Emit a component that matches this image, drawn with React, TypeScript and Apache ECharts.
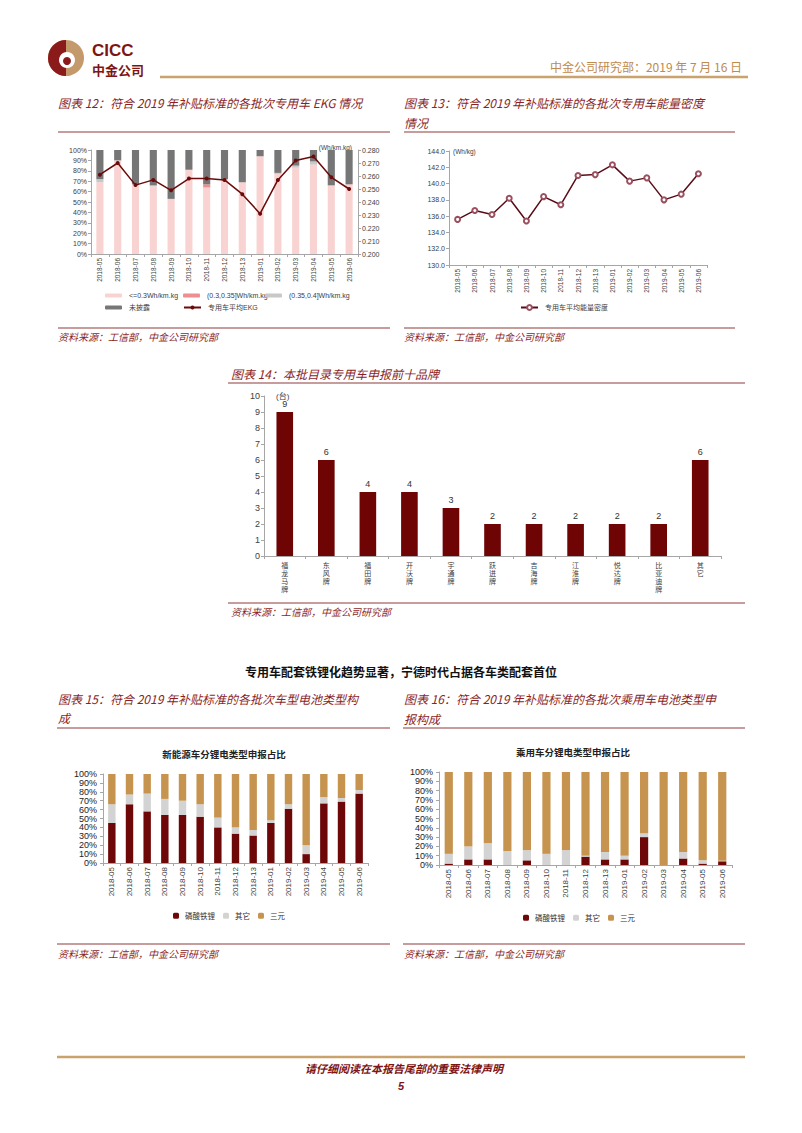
import React, { useEffect, useRef } from 'react';
import * as echarts from 'echarts';

const months = ['2018-05','2018-06','2018-07','2018-08','2018-09','2018-10','2018-11','2018-12','2018-13','2019-01','2019-02','2019-03','2019-04','2019-05','2019-06'];

// 图表12
const ekgLe030 = [69, 90, 67, 65, 53, 81, 64, 72, 69, 94, 77, 83, 86, 66, 67];
const ekg030to035 = [0, 0, 0, 0, 0, 0, 3, 0, 0, 0, 0, 0, 0, 0, 0];
const ekg035to040 = [3, 0, 0, 1, 0, 0, 0, 0, 0, 0, 1, 2, 3, 0, 0];
const ekgUndisclosed = [28, 10, 33, 34, 47, 19, 33, 28, 31, 6, 22, 15, 11, 34, 33];
const ekgAvg = [0.261, 0.270, 0.253, 0.257, 0.249, 0.258, 0.258, 0.257, 0.246, 0.231, 0.257, 0.272, 0.275, 0.259, 0.250];

// 图表13
const energyDensity = [135.6, 136.7, 136.2, 138.2, 135.4, 138.4, 137.4, 141.0, 141.1, 142.3, 140.3, 140.7, 138.0, 138.7, 141.2];

// 图表14
const brands = ['福龙马牌', '东风牌', '福田牌', '开沃牌', '宇通牌', '跃进牌', '吉海牌', '江淮牌', '悦达牌', '比亚迪牌', '其它'];
const brandCounts = [9, 6, 4, 4, 3, 2, 2, 2, 2, 2, 6];

// 图表15
const nevLfp = [45, 66, 58, 54, 54, 52, 40, 33, 31, 45, 61, 10, 67, 69, 78];
const nevOther = [21, 11, 20, 18, 16, 14, 11, 7, 6, 3, 5, 10, 7, 4, 4];
const nevNcm = [34, 23, 22, 28, 30, 34, 49, 60, 63, 52, 34, 80, 26, 27, 18];

// 图表16
const pvLfp = [1.5, 6, 6, 0, 5, 0, 0, 9, 6, 6, 30, 0, 7, 1.5, 4];
const pvOther = [10.5, 14, 17.5, 15, 11, 12, 16, 1, 8, 4, 4, 0, 7, 3.5, 0.5];
const pvNcm = [88, 80, 76.5, 85, 84, 88, 84, 90, 86, 90, 66, 100, 86, 95, 95.5];

const pctTicks = '{value}%';

const FONT = '"Liberation Sans", "Noto Sans CJK SC", sans-serif';
const CJK = '"Noto Sans CJK SC", sans-serif';
const RED = '#8c1f28';
const RULE = '#8e3b3b';
const GOLD = '#c9a26d';
const DARK = '#6e0808';
const TAN = '#c6944f';
const LGREY = '#d3d3d3';
const AXIS = '#a6a6a6';

const txt = (x: number, y: number, text: string, font: string, fill: string, align = 'left') => ({
  type: 'text', x, y, silent: true,
  style: { text, font, fill, textAlign: align, textVerticalAlign: 'middle' },
});
const ln = (x1: number, y1: number, x2: number, y2: number, stroke: string, lineWidth = 1) => ({
  type: 'line', silent: true, shape: { x1, y1, x2, y2 }, style: { stroke, lineWidth },
});

const titleFont = `italic 12px ${CJK}`;
const srcFont = `italic 10px ${CJK}`;
const SRC = '资料来源：工信部，中金公司研究部';

const graphics: any[] = [
  // logo
  { type: 'circle', shape: { cx: 66, cy: 58, r: 18 }, style: { fill: '#c49a6c' } },
  { type: 'sector', shape: { cx: 66, cy: 58, r: 18, r0: 0, startAngle: Math.PI / 2, endAngle: Math.PI * 3 / 2 }, style: { fill: '#8b1a1a' } },
  { type: 'circle', shape: { cx: 67, cy: 60, r: 8 }, style: { fill: '#ffffff' } },
  { type: 'circle', shape: { cx: 67, cy: 61, r: 4 }, style: { fill: '#8b1a1a' } },
  txt(92, 50, 'CICC', `bold 17px "Liberation Sans", sans-serif`, '#7e1515'),
  txt(92, 69, '中金公司', `bold 13px ${CJK}`, '#7e1515'),
  ln(160, 77, 748, 77, GOLD, 2.5),
  txt(742, 66, '中金公司研究部：2019 年 7 月 16 日', `12px ${CJK}`, '#c08a4c', 'right'),

  // chart 12
  txt(58, 102, '图表 12：符合 2019 年补贴标准的各批次专用车 EKG 情况', titleFont, RED),
  ln(58, 132, 390, 132, RULE, 1.2),
  txt(352, 147, '(Wh/km.kg)', `6.5px ${FONT}`, '#404040', 'right'),
  ln(58, 328, 390, 328, RULE, 1.2),
  txt(58, 336, SRC, srcFont, RED),

  // chart 13
  txt(404, 102, '图表 13：符合 2019 年补贴标准的各批次专用车能量密度', titleFont, RED),
  txt(404, 122, '情况', titleFont, RED),
  ln(404, 132, 735, 132, RULE, 1.2),
  txt(453, 151, '(Wh/kg)', `6.5px ${FONT}`, '#404040'),
  ln(404, 328, 735, 328, RULE, 1.2),
  txt(404, 336, SRC, srcFont, RED),

  // chart 14
  txt(231, 373, '图表 14：本批目录专用车申报前十品牌', titleFont, RED),
  ln(228, 383, 745, 383, RULE, 1.2),
  txt(276, 396, '(台)', `8px ${FONT}`, '#404040'),
  ln(228, 603, 745, 603, RULE, 1.2),
  txt(231, 611, SRC, srcFont, RED),

  // section heading
  txt(401, 671, '专用车配套铁锂化趋势显著，宁德时代占据各车类配套首位', `bold 12px ${CJK}`, '#111111', 'center'),

  // chart 15
  txt(58, 698, '图表 15：符合 2019 年补贴标准的各批次车型电池类型构', titleFont, RED),
  txt(58, 717, '成', titleFont, RED),
  ln(57, 728, 390, 728, RULE, 1.2),
  txt(224, 754, '新能源车分锂电类型申报占比', `bold 9.5px ${CJK}`, '#222222', 'center'),
  ln(57, 944, 390, 944, RULE, 1.2),
  txt(58, 953, SRC, srcFont, RED),

  // chart 16
  txt(404, 698, '图表 16：符合 2019 年补贴标准的各批次乘用车电池类型申', titleFont, RED),
  txt(404, 718, '报构成', titleFont, RED),
  ln(403, 728, 745, 728, RULE, 1.2),
  txt(573, 752, '乘用车分锂电类型申报占比', `bold 9.5px ${CJK}`, '#222222', 'center'),
  ln(403, 944, 745, 944, RULE, 1.2),
  txt(404, 953, SRC, srcFont, RED),

  // footer
  ln(57, 1057, 745, 1057, GOLD, 2.5),
  txt(404, 1068, '请仔细阅读在本报告尾部的重要法律声明', `italic bold 11px ${CJK}`, '#7e1515', 'center'),
  txt(401, 1086, '5', `italic bold 11px "Liberation Sans", sans-serif`, '#7e1515', 'center'),
];

const catX = (gridIndex: number, data: string[], fontSize: number, extra: any = {}) => ({
  type: 'category', gridIndex, data,
  axisLine: { show: true, onZero: false, lineStyle: { color: AXIS } },
  axisTick: { show: true, length: 3, lineStyle: { color: AXIS } },
  axisLabel: { rotate: 90, interval: 0, fontSize, color: '#404040', margin: 4, fontFamily: FONT },
  ...extra,
});
const valY = (gridIndex: number, min: number, max: number, interval: number, fontSize: number, formatter: any, extra: any = {}) => ({
  type: 'value', gridIndex, min, max, interval,
  axisLine: { show: true, lineStyle: { color: AXIS } },
  axisTick: { show: true, length: 3, lineStyle: { color: AXIS } },
  splitLine: { show: false },
  axisLabel: { fontSize, color: '#404040', margin: 4, fontFamily: FONT, formatter },
  ...extra,
});

const lg = (name: string, left: number, top: number, extra: any = {}) => ({
  data: [name], left, top, padding: 0, itemWidth: 17, itemHeight: 4, itemGap: 0,
  selectedMode: false,
  textStyle: { fontSize: 7, color: '#404040', fontFamily: FONT, padding: [0, 0, 0, 2] },
  ...extra,
});

const option: any = {
  animation: false,
  textStyle: { fontFamily: FONT },
  graphic: { elements: graphics },
  grid: [
    { left: 91, top: 150, width: 267, height: 104 },
    { left: 449, top: 151, width: 258, height: 114 },
    { left: 264, top: 396, width: 457, height: 160 },
    { left: 103, top: 774, width: 265, height: 89 },
    { left: 439, top: 772, width: 293, height: 93 },
  ],
  xAxis: [
    catX(0, months, 6.5),
    catX(1, months, 6.5),
    catX(2, brands, 7, {
      axisLabel: {
        rotate: 0, interval: 0, fontSize: 7, lineHeight: 8, color: '#404040', margin: 5, fontFamily: CJK,
        verticalAlign: 'top', align: 'center',
        formatter: (v: string) => v.split('').join('\n'),
      },
    }),
    catX(3, months, 8),
    catX(4, months, 8),
  ],
  yAxis: [
    valY(0, 0, 100, 10, 7, pctTicks),
    valY(0, 0.2, 0.28, 0.01, 7, (v: number) => v.toFixed(3), { position: 'right' }),
    valY(1, 130, 144, 2, 7, (v: number) => v.toFixed(1)),
    valY(2, 0, 10, 1, 9, '{value}'),
    valY(3, 0, 100, 10, 9, pctTicks, { axisLabel: { fontSize: 9, color: '#222', margin: 6, fontFamily: FONT, formatter: pctTicks } }),
    valY(4, 0, 100, 10, 9, pctTicks, { axisLabel: { fontSize: 9, color: '#222', margin: 6, fontFamily: FONT, formatter: pctTicks } }),
  ],
  legend: [
    lg('<=0.3Wh/km.kg', 105, 292),
    lg('(0.3,0.35]Wh/km.kg', 183, 292),
    lg('(0.35,0.4]Wh/km.kg', 265, 292),
    lg('未披露', 105, 304),
    lg('专用车平均EKG', 183, 304, { itemHeight: 5 }),
    lg('专用车平均能量密度', 520, 304, { itemHeight: 6 }),
    {
      data: ['磷酸铁锂', '其它', '三元'], left: 173, top: 912, padding: 0, itemWidth: 6, itemHeight: 6, itemGap: 8,
      selectedMode: false, textStyle: { fontSize: 7.5, color: '#333', fontFamily: CJK, padding: [0, 0, 0, 1] },
    },
    {
      data: ['磷酸铁锂', '其它', '三元'], left: 523, top: 914, padding: 0, itemWidth: 6, itemHeight: 6, itemGap: 8,
      selectedMode: false, textStyle: { fontSize: 7.5, color: '#333', fontFamily: CJK, padding: [0, 0, 0, 1] },
    },
  ],
  series: [
    { name: '<=0.3Wh/km.kg', type: 'bar', stack: 'ekg', xAxisIndex: 0, yAxisIndex: 0, barWidth: '40%', data: ekgLe030, itemStyle: { color: '#f9d3d1' } },
    { name: '(0.3,0.35]Wh/km.kg', type: 'bar', stack: 'ekg', xAxisIndex: 0, yAxisIndex: 0, data: ekg030to035, itemStyle: { color: '#ee8e90' } },
    { name: '(0.35,0.4]Wh/km.kg', type: 'bar', stack: 'ekg', xAxisIndex: 0, yAxisIndex: 0, data: ekg035to040, itemStyle: { color: '#c8c8c8' } },
    { name: '未披露', type: 'bar', stack: 'ekg', xAxisIndex: 0, yAxisIndex: 0, data: ekgUndisclosed, itemStyle: { color: '#767676' } },
    { name: '专用车平均EKG', type: 'line', xAxisIndex: 0, yAxisIndex: 1, data: ekgAvg, symbol: 'circle', symbolSize: 4, lineStyle: { color: '#6b0a0a', width: 1.5 }, itemStyle: { color: '#6b0a0a' } },
    { name: '专用车平均能量密度', type: 'line', xAxisIndex: 1, yAxisIndex: 2, data: energyDensity, symbol: 'emptyCircle', symbolSize: 5, lineStyle: { color: '#5a0c16', width: 1.5 }, itemStyle: { color: '#9a5060', borderWidth: 1 } },
    {
      name: '品牌', type: 'bar', xAxisIndex: 2, yAxisIndex: 3, data: brandCounts, barWidth: '40%', itemStyle: { color: '#6e0404' },
      label: { show: true, position: 'top', fontSize: 9, color: '#333', fontFamily: FONT, distance: 4 },
    },
    { name: '磷酸铁锂', type: 'bar', stack: 'nev', xAxisIndex: 3, yAxisIndex: 4, barWidth: '42%', data: nevLfp, itemStyle: { color: DARK } },
    { name: '其它', type: 'bar', stack: 'nev', xAxisIndex: 3, yAxisIndex: 4, data: nevOther, itemStyle: { color: LGREY } },
    { name: '三元', type: 'bar', stack: 'nev', xAxisIndex: 3, yAxisIndex: 4, data: nevNcm, itemStyle: { color: TAN } },
    { name: '磷酸铁锂', type: 'bar', stack: 'pv', xAxisIndex: 4, yAxisIndex: 5, barWidth: '42%', data: pvLfp, itemStyle: { color: DARK } },
    { name: '其它', type: 'bar', stack: 'pv', xAxisIndex: 4, yAxisIndex: 5, data: pvOther, itemStyle: { color: LGREY } },
    { name: '三元', type: 'bar', stack: 'pv', xAxisIndex: 4, yAxisIndex: 5, data: pvNcm, itemStyle: { color: TAN } },
  ],
};

export default function App() {
  const ref = useRef<HTMLDivElement>(null);
  useEffect(() => {
    const chart = echarts.init(ref.current as HTMLDivElement, null, { renderer: 'svg' });
    chart.setOption(option);
    return () => chart.dispose();
  }, []);
  return (
    <div
      ref={ref}
      style={{ position: 'absolute', left: 0, top: 0, width: 802, height: 1133, background: '#ffffff' }}
    />
  );
}
